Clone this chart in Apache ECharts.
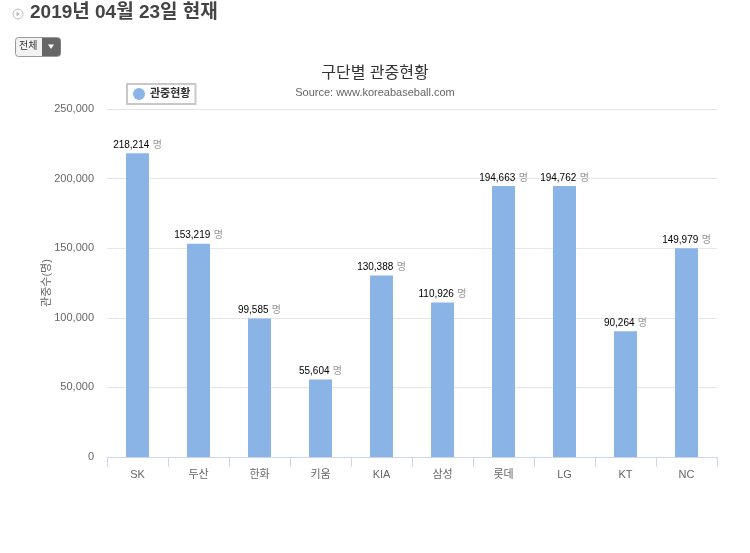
<!DOCTYPE html>
<html><head><meta charset="utf-8">
<script src="https://cdn.jsdelivr.net/npm/echarts@6/dist/echarts.min.js"></script>
<style>html,body{margin:0;padding:0;background:#fff}#c{width:750px;height:553px}</style>
</head><body><div id="c"></div>
<script>
const categories = ['SK','두산','한화','키움','KIA','삼성','롯데','LG','KT','NC'];
const attendance = [218214,153219,99585,55604,130388,110926,194663,194762,90264,149979];
const seriesName = '관중현황';
const yTicks = [0,50000,100000,150000,200000,250000];

const KFONT = '"Liberation Sans","Noto Sans CJK KR",sans-serif';
const chart = echarts.init(document.getElementById('c'));
chart.setOption({
  animation:false,
  textStyle:{fontFamily:KFONT},
  title:{
    text:'구단별 관중현황', subtext:'Source: www.koreabaseball.com',
    left:'center', top:61, itemGap:5,
    textStyle:{fontSize:16,fontWeight:'normal',color:'#333',fontFamily:KFONT},
    subtextStyle:{fontSize:11,color:'#666',fontFamily:KFONT}
  },
  legend:{
    left:127, top:84, padding:[4,5,4,6],
    borderColor:'#c8c8c8', borderWidth:2, borderRadius:0,
    itemWidth:12, itemHeight:12, icon:'circle',
    textStyle:{fontSize:11,fontWeight:'bold',color:'#333',fontFamily:KFONT},
    data:[seriesName]
  },
  grid:{left:107,right:33,top:109,bottom:96,containLabel:false},
  xAxis:{
    type:'category', data:categories,
    axisLine:{lineStyle:{color:'#ccd6eb'}},
    axisTick:{show:true,length:10,lineStyle:{color:'#ccd6eb'}},
    axisLabel:{color:'#666',fontSize:11,margin:12,fontFamily:KFONT}
  },
  yAxis:{
    type:'value', min:yTicks[0], max:yTicks[yTicks.length-1], interval:yTicks[1]-yTicks[0],
    name:'관중수(명)', nameLocation:'middle', nameGap:55, nameRotate:90, nameMoveOverlap:false,
    nameTextStyle:{color:'#666',fontSize:11,fontFamily:KFONT},
    axisLabel:{color:'#666',fontSize:11,margin:13,
      formatter:v=>v.toLocaleString('en-US')},
    splitLine:{lineStyle:{color:'#e6e6e6'}},
    axisLine:{show:false}, axisTick:{show:false}
  },
  series:[{
    name:seriesName, type:'bar', data:attendance, barWidth:23,
    itemStyle:{color:'#8ab4e6'},
    label:{show:true,position:'top',distance:2,
      formatter:p=>'{v|'+p.value.toLocaleString('en-US')+'} {u|명}',
      rich:{v:{fontSize:10,color:'#000',fontFamily:KFONT},u:{fontSize:10,color:'#999',fontFamily:KFONT}}
    }
  }],
  graphic:[
    {type:'circle',shape:{cx:18,cy:14,r:5},style:{fill:'#fff',stroke:'#bbb',lineWidth:1}},
    {type:'polygon',shape:{points:[[16.5,11.5],[20,14],[16.5,16.5]]},style:{fill:'#bbb'}},
    {type:'text',left:30,top:3,style:{text:'2019년 04월 23일 현재',fill:'#444',font:'bold 19px '+KFONT}},
    {type:'rect',shape:{x:15.5,y:37.5,width:45,height:19,r:3},style:{fill:'#f2f2f2',stroke:'#999',lineWidth:1}},
    {type:'rect',shape:{x:42,y:38,width:18.5,height:18,r:[0,3,3,0]},style:{fill:'#666'}},
    {type:'text',left:19,top:41,style:{text:'전체',fill:'#333',font:'10px '+KFONT}},
    {type:'polygon',shape:{points:[[48,44.5],[54,44.5],[51,49]]},style:{fill:'#fff'}}
  ]
});
</script></body></html>
